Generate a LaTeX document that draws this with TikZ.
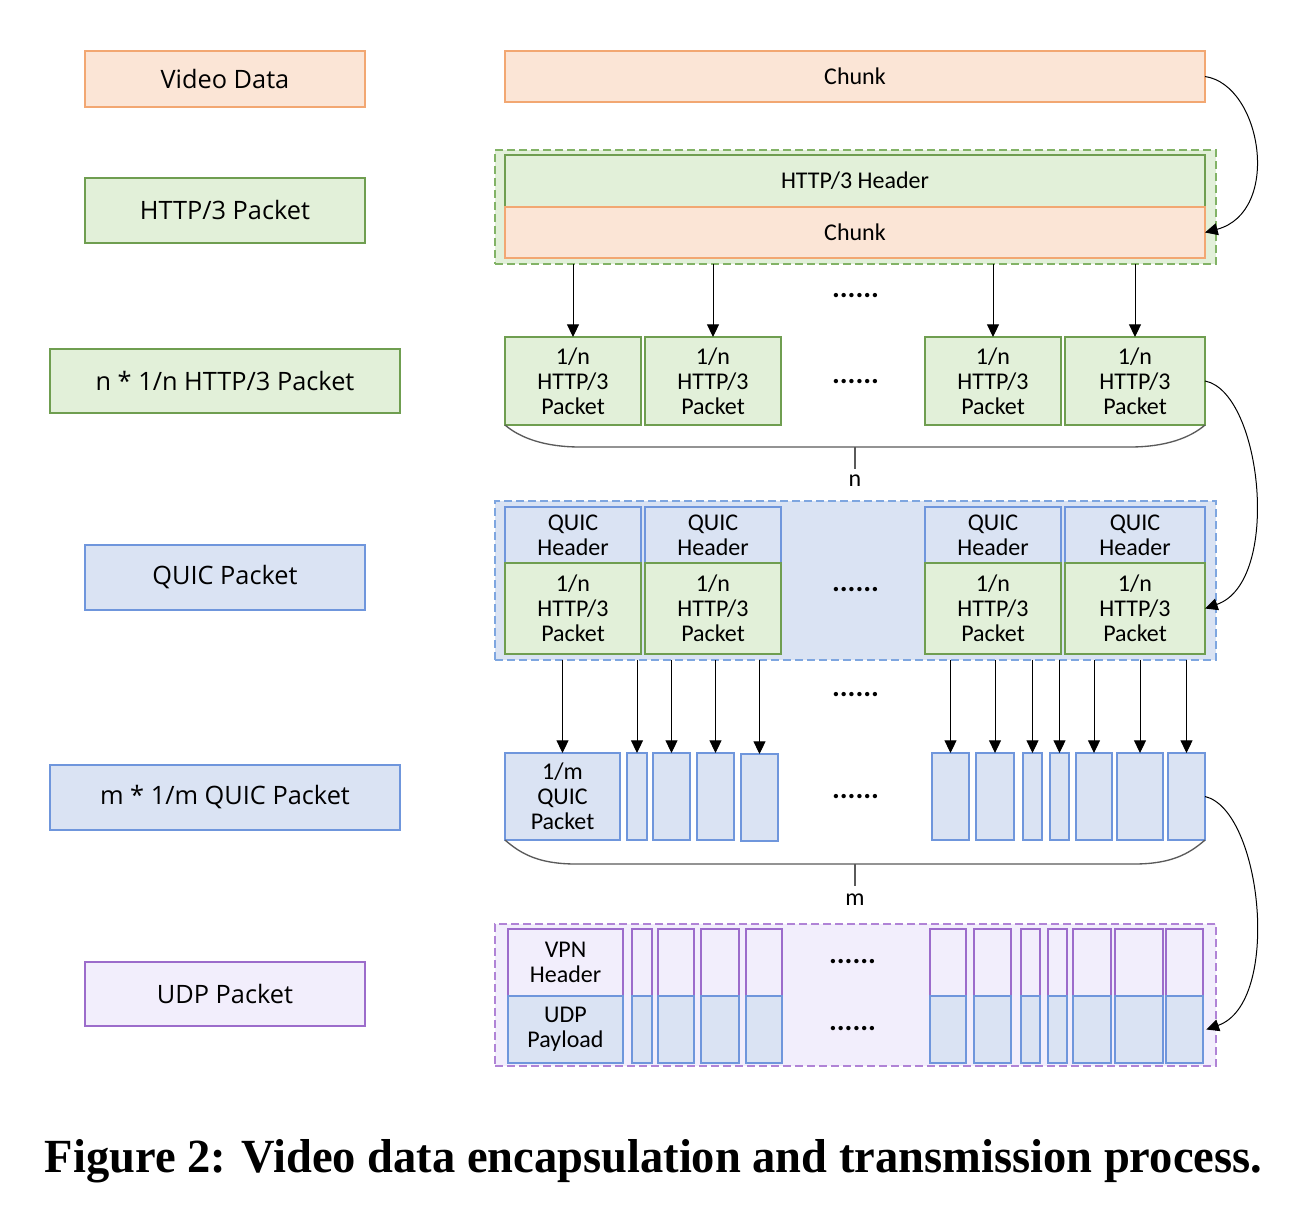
\documentclass[tikz,border=0pt]{standalone}
\usepackage{fontspec}
\usepackage{graphicx}
\setmainfont{Carlito}
\newfontfamily\lblfont{Open Sans}
\newfontfamily\capfont{Liberation Serif}
\usetikzlibrary{arrows.meta}
\definecolor{orF}{HTML}{FBE5D6}
\definecolor{orL}{HTML}{F2A772}
\definecolor{grF}{HTML}{E2F0D9}
\definecolor{grL}{HTML}{6F9E50}
\definecolor{grD}{HTML}{82B366}
\definecolor{blF}{HTML}{DAE3F3}
\definecolor{blL}{HTML}{6F96DC}
\definecolor{blD}{HTML}{7EA6E0}
\definecolor{puF}{HTML}{F2EEFC}
\definecolor{puL}{HTML}{9C6CCB}
\definecolor{puD}{HTML}{B083D6}
\definecolor{brc}{HTML}{5A5A5A}
\newcommand\bx[7]{\node[#2, minimum width={(#5-#3)*0.75pt}, minimum height={(#6-#4)*0.75pt}] (#1) at ({(#3+#5)/2},{(#4+#6)/2}) {#7};}
\begin{document}
\begin{tikzpicture}[x=0.75pt,y=-0.75pt,
  box/.style={draw, inner sep=0pt, outer sep=0pt, line width=1pt, align=center,
    font=\fontsize{18}{18.75}\selectfont},
  lbl/.style={draw, inner sep=0pt, outer sep=0pt, line width=1pt,
    font=\lblfont\fontsize{19}{23}\selectfont},
  org/.style={fill=orF, draw=orL},
  grn/.style={fill=grF, draw=grL},
  blu/.style={fill=blF, draw=blL},
  pur/.style={fill=puF, draw=puL},
  cont/.style={draw, inner sep=0pt, outer sep=0pt, line width=1pt, dash pattern=on 6pt off 3pt},
  arr/.style={draw=black, line width=0.75pt, -{Triangle[length=9.5pt,width=9pt]}},
  brace/.style={draw=brc, line width=1pt},
  dots/.style={inner sep=0pt, font=\fontsize{22}{22}\selectfont\bfseries, anchor=base},
  txt/.style={inner sep=0pt, font=\fontsize{18}{18.75}\selectfont}
]
\useasboundingbox (0,0) rectangle (1316,1230);
\fill[white] (0,0) rectangle (1316,1230);

% left labels
\bx{lv}{lbl,org}{85}{51}{365}{107}{Video Data}
\bx{lh}{lbl,grn}{85}{178}{365}{243}{HTTP/3 Packet}
\bx{ln}{lbl,grn}{50}{349}{400}{413}{n * 1/n HTTP/3 Packet}
\bx{lq}{lbl,blu}{85}{545}{365}{610}{QUIC Packet}
\bx{lm}{lbl,blu}{50}{765}{400}{830}{m * 1/m QUIC Packet}
\bx{lu}{lbl,pur}{85}{962}{365}{1026}{UDP Packet}

% video chunk
\bx{c0}{box,org}{505}{51}{1205}{102}{Chunk}

% HTTP/3 packet
\bx{hc}{cont,fill=grF,draw=grD}{495}{150}{1216}{264}{}
\bx{hh}{box,grn}{505}{155}{1205}{207}{HTTP/3 Header}
\bx{hk}{box,org}{505}{207}{1205}{258}{Chunk}

% n * 1/n packets
\bx{p1}{box,grn}{505}{337}{641}{425}{1/n\\HTTP/3\\Packet}
\bx{p2}{box,grn}{645}{337}{781}{425}{1/n\\HTTP/3\\Packet}
\bx{p3}{box,grn}{925}{337}{1061}{425}{1/n\\HTTP/3\\Packet}
\bx{p4}{box,grn}{1065}{337}{1205}{425}{1/n\\HTTP/3\\Packet}

% QUIC packets
\bx{qc}{cont,fill=blF,draw=blD}{495}{501}{1216}{660}{}
\bx{qh1}{box,blu}{505}{507}{641}{563}{QUIC\\Header}
\bx{qh2}{box,blu}{645}{507}{781}{563}{QUIC\\Header}
\bx{qh3}{box,blu}{925}{507}{1061}{563}{QUIC\\Header}
\bx{qh4}{box,blu}{1065}{507}{1205}{563}{QUIC\\Header}
\bx{qp1}{box,grn}{505}{563}{641}{654}{1/n\\HTTP/3\\Packet}
\bx{qp2}{box,grn}{645}{563}{781}{654}{1/n\\HTTP/3\\Packet}
\bx{qp3}{box,grn}{925}{563}{1061}{654}{1/n\\HTTP/3\\Packet}
\bx{qp4}{box,grn}{1065}{563}{1205}{654}{1/n\\HTTP/3\\Packet}

% m * 1/m QUIC packets
\bx{m1}{box,blu}{505}{753}{620}{840}{1/m\\QUIC\\Packet}
\bx{m2}{box,blu}{627}{753}{647}{840}{}
\bx{m3}{box,blu}{653}{753}{690}{840}{}
\bx{m4}{box,blu}{697}{753}{734}{840}{}
\bx{m5}{box,blu}{741}{754}{778}{841}{}
\bx{m6}{box,blu}{932}{753}{969}{840}{}
\bx{m7}{box,blu}{976}{753}{1014}{840}{}
\bx{m8}{box,blu}{1023}{753}{1042}{840}{}
\bx{m9}{box,blu}{1050}{753}{1069}{840}{}
\bx{m10}{box,blu}{1076}{753}{1112}{840}{}
\bx{m11}{box,blu}{1117}{753}{1163}{840}{}
\bx{m12}{box,blu}{1168}{753}{1205}{840}{}

% UDP packets
\bx{uc}{cont,fill=puF,draw=puD}{495}{924}{1216}{1066}{}
\bx{v1}{box,pur}{508}{929}{623}{996}{VPN\\Header}
\bx{v2}{box,pur}{632}{929}{652}{996}{}
\bx{v3}{box,pur}{658}{929}{694}{996}{}
\bx{v4}{box,pur}{701}{929}{739}{996}{}
\bx{v5}{box,pur}{746}{929}{782}{996}{}
\bx{v6}{box,pur}{930}{929}{966}{996}{}
\bx{v7}{box,pur}{974}{929}{1011}{996}{}
\bx{v8}{box,pur}{1021}{929}{1040}{996}{}
\bx{v9}{box,pur}{1048}{929}{1067}{996}{}
\bx{v10}{box,pur}{1073}{929}{1111}{996}{}
\bx{v11}{box,pur}{1115}{929}{1163}{996}{}
\bx{v12}{box,pur}{1166}{929}{1203}{996}{}
\bx{u1}{box,blu}{508}{996}{623}{1063}{UDP\\Payload}
\bx{u2}{box,blu}{632}{996}{652}{1063}{}
\bx{u3}{box,blu}{658}{996}{694}{1063}{}
\bx{u4}{box,blu}{701}{996}{739}{1063}{}
\bx{u5}{box,blu}{746}{996}{782}{1063}{}
\bx{u6}{box,blu}{930}{996}{966}{1063}{}
\bx{u7}{box,blu}{974}{996}{1011}{1063}{}
\bx{u8}{box,blu}{1021}{996}{1040}{1063}{}
\bx{u9}{box,blu}{1048}{996}{1067}{1063}{}
\bx{u10}{box,blu}{1073}{996}{1111}{1063}{}
\bx{u11}{box,blu}{1115}{996}{1163}{1063}{}
\bx{u12}{box,blu}{1166}{996}{1203}{1063}{}

% ellipses
\node[dots] (d1) at (855.5,298) {......};
\node[dots] (d2) at (855.5,383) {......};
\node[dots] (d3) at (855.5,591) {......};
\node[dots] (d4) at (855.5,696) {......};
\node[dots] (d5) at (855.5,798) {......};
\node[dots] (d6) at (852.5,963) {......};
\node[dots] (d7) at (852.5,1030) {......};

% vertical arrows HTTP/3 -> 1/n
\foreach \p in {p1,p2,p3,p4}
  \draw[arr] (hc.south -| \p.north) -- (\p.north);
% vertical arrows QUIC -> 1/m
\foreach \p in {m1,m2,m3,m4,m5,m6,m7,m8,m9,m10,m11,m12}
  \draw[arr] (qc.south -| \p.north) -- (\p.north);

% curved arrows
\draw[arr] (c0.east) .. controls (1262,85) and (1282,212) .. (hk.east);
\draw[arr] (p4.east) .. controls (1262,392) and (1282,582) .. (qp4.east);
\coordinate (uend) at ([xshift=2.5pt]u12.east);
\draw[arr] (m12.east) .. controls (1262,810) and (1282,1003) .. (uend);

% brace n
\coordinate (nb1) at (580,447);
\coordinate (nb2) at (1130,447);
\coordinate (nt) at (855,447);
\coordinate (nte) at (855,469);
\draw[brace] (p1.south west) .. controls +(15,13) and +(-35,0) .. (nb1) -- (nb2) .. controls +(35,0) and +(-15,13) .. (p4.south east);
\node[txt] (nlab) at (855,481) {n};
\draw[brace] (nt) -- (nte);

% brace m
\coordinate (mb1) at (576,864);
\coordinate (mb2) at (1134,864);
\coordinate (mt) at (855,864);
\coordinate (mte) at (855,886);
\draw[brace] (m1.south west) .. controls +(16,14) and +(-37,0) .. (mb1) -- (mb2) .. controls +(37,0) and +(-16,14) .. (m12.south east);
\node[txt] (mlab) at (855,900) {m};
\draw[brace] (mt) -- (mte);

% caption
\node[anchor=base, inner sep=0pt] (cap) at (653.5,1172) {\resizebox{912.75pt}{24.75pt}{\capfont\bfseries Figure 2: Video data encapsulation and transmission process.}};
\end{tikzpicture}
\end{document}
